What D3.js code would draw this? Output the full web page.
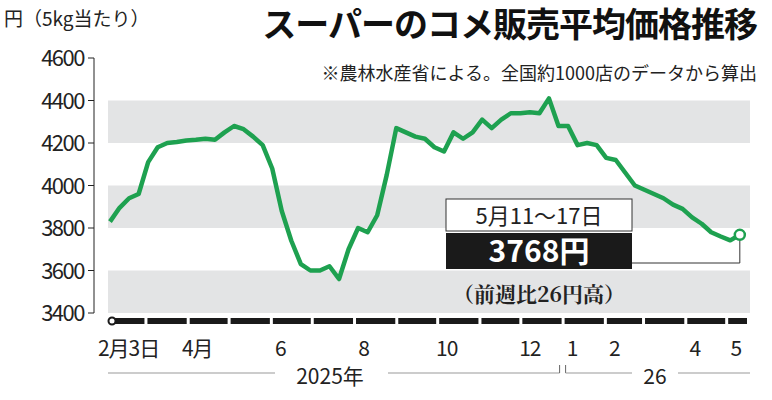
<!DOCTYPE html>
<html><head><meta charset="utf-8">
<script src="https://cdn.jsdelivr.net/npm/d3@7"></script>
<style>body{margin:0;background:#fff}text{font-family:"Noto Sans CJK JP","Noto Sans",sans-serif}</style>
</head><body><svg id="c" width="772" height="400"></svg>
<script>
// weekly averages, yen per 5kg, week starting Mon 2025-02-03
const startWeek = new Date(2025, 1, 3);
const prices = [3830, 3895, 3940, 3960, 4110, 4180, 4200, 4205, 4212, 4215, 4220, 4215, 4250, 4280, 4265, 4230,
  4190, 4080, 3880, 3740, 3630, 3600, 3600, 3620, 3560, 3700, 3800, 3780, 3860, 4050, 4270, 4250, 4230, 4220,
  4180, 4160, 4250, 4220, 4250, 4310, 4270, 4310, 4340, 4340, 4345, 4340, 4410, 4280, 4280, 4190, 4200, 4190,
  4130, 4120, 4060, 4000, 3980, 3960, 3940, 3910, 3890, 3850, 3820, 3780, 3760, 3742, 3768];
const yTicks = [3400, 3600, 3800, 4000, 4200, 4400, 4600];
const monthLabels = [["2025-02-03", "2月3日"], ["2025-04-01", "4月"], ["2025-06-01", "6"], ["2025-08-01", "8"],
  ["2025-10-01", "10"], ["2025-12-01", "12"], ["2026-01-01", "1"], ["2026-02-01", "2"], ["2026-04-01", "4"], ["2026-05-01", "5"]];

const data = prices.map((v, i) => ({ date: d3.timeDay.offset(startWeek, 7 * i), v }));
const last = data[data.length - 1];

const svg = d3.select("#c");
const x = d3.scaleTime().domain([startWeek, new Date(2026, 4, 17)]).range([110, 748]);
const y = d3.scaleLinear().domain([3400, 4600]).range([313, 58]);
const green = "#1ea150";

// grey bands
svg.selectAll(".band").data([3400, 3800, 4200]).join("rect")
  .attr("x", 108).attr("width", 642)
  .attr("y", d => y(d + 200)).attr("height", d => y(d) - y(d + 200))
  .attr("fill", "#e3e4e5");

// y labels
svg.selectAll(".yl").data(yTicks).join("text")
  .attr("x", 84).attr("y", d => y(d) + 8).attr("text-anchor", "end")
  .attr("font-size", 22).attr("fill", "#222").attr("letter-spacing", -1.5).text(d => d);
svg.selectAll(".yt").data(yTicks).join("line")
  .attr("x1", 88).attr("x2", 94).attr("y1", d => y(d)).attr("y2", d => y(d)).attr("stroke", "#222");
svg.append("line").attr("x1", 94).attr("x2", 94).attr("y1", y(4600)).attr("y2", y(3400)).attr("stroke", "#222");

svg.append("text").attr("x", 4).attr("y", 26).attr("font-size", 19).attr("fill", "#222").text("円（5kg当たり）");
svg.append("text").attr("x", 757).attr("y", 37).attr("text-anchor", "end").attr("font-size", 34)
  .attr("font-weight", "bold").attr("fill", "#111").attr("letter-spacing", -1).text("スーパーのコメ販売平均価格推移");
svg.append("text").attr("x", 757).attr("y", 80).attr("text-anchor", "end").attr("font-size", 18)
  .attr("fill", "#222").text("※農林水産省による。全国約1000店のデータから算出");

// line
svg.append("path").datum(data)
  .attr("d", d3.line().x(d => x(d.date)).y(d => y(d.v)))
  .attr("fill", "none").attr("stroke", green).attr("stroke-width", 4.5).attr("stroke-linejoin", "round");

// leader + endpoint
const lx = x(last.date), ly = y(last.v);
svg.append("polyline").attr("points", `632,263 ${lx},263 ${lx},${ly + 5}`).attr("fill", "none").attr("stroke", "#333");
svg.append("circle").attr("cx", lx).attr("cy", ly).attr("r", 5).attr("fill", "#fff").attr("stroke", green).attr("stroke-width", 2.5);

// annotation
svg.append("rect").attr("x", 446).attr("y", 199).attr("width", 186).attr("height", 32).attr("fill", "#fff").attr("stroke", "#333");
svg.append("text").attr("x", 539).attr("y", 224).attr("text-anchor", "middle").attr("font-size", 22).attr("fill", "#222").text("5月11～17日");
svg.append("rect").attr("x", 446).attr("y", 233).attr("width", 186).attr("height", 36).attr("fill", "#1a1a1a");
svg.append("text").attr("x", 539).attr("y", 262).attr("text-anchor", "middle").attr("font-size", 30)
  .attr("font-weight", "bold").attr("fill", "#fff").text(last.v + "円");
svg.append("text").attr("x", 539).attr("y", 302).attr("text-anchor", "middle").attr("font-size", 21)
  .attr("font-weight", "bold").attr("fill", "#222").style("font-family", "'Noto Serif CJK JP','DejaVu Serif',serif")
  .text("（前週比26円高）");

// time bar segmented by month
const months = d3.timeMonth.range(new Date(2025, 2, 1), new Date(2026, 5, 1));
const bounds = [startWeek, ...months.filter(m => m < new Date(2026, 4, 17)), new Date(2026, 4, 17)];
svg.selectAll(".seg").data(d3.pairs(bounds)).join("rect")
  .attr("x", d => x(d[0]) + 2).attr("width", d => x(d[1]) - x(d[0]) - 3)
  .attr("y", 318).attr("height", 6).attr("fill", "#1a1a1a");
svg.append("circle").attr("cx", 112).attr("cy", 321).attr("r", 3.5).attr("fill", "#fff").attr("stroke", "#1a1a1a").attr("stroke-width", 2);

svg.selectAll(".ml").data(monthLabels).join("text")
  .attr("x", d => x(d3.timeDay.offset(new Date(d[0]), 7)) + (d[1] === "2月3日" ? 9 : 0))
  .attr("y", 356).attr("text-anchor", "middle").attr("font-size", 21).attr("fill", "#222")
  .attr("letter-spacing", -1).text(d => d[1]);

// year brackets
const yb = x(new Date(2026, 0, 1));
svg.append("line").attr("x1", 108).attr("x2", 275).attr("y1", 373).attr("y2", 373).attr("stroke", "#999");
svg.append("line").attr("x1", 388).attr("x2", yb - 3).attr("y1", 373).attr("y2", 373).attr("stroke", "#999");
svg.append("line").attr("x1", yb - 3).attr("x2", yb - 3).attr("y1", 365).attr("y2", 373).attr("stroke", "#666");
svg.append("line").attr("x1", yb + 3).attr("x2", yb + 3).attr("y1", 365).attr("y2", 373).attr("stroke", "#666");
svg.append("line").attr("x1", yb + 3).attr("x2", 632).attr("y1", 373).attr("y2", 373).attr("stroke", "#999");
svg.append("line").attr("x1", 678).attr("x2", 750).attr("y1", 373).attr("y2", 373).attr("stroke", "#999");
svg.append("text").attr("x", 330).attr("y", 384).attr("text-anchor", "middle").attr("font-size", 21).attr("fill", "#222").text("2025年");
svg.append("text").attr("x", 655).attr("y", 384).attr("text-anchor", "middle").attr("font-size", 21).attr("fill", "#222").text("26");
</script></body></html>
